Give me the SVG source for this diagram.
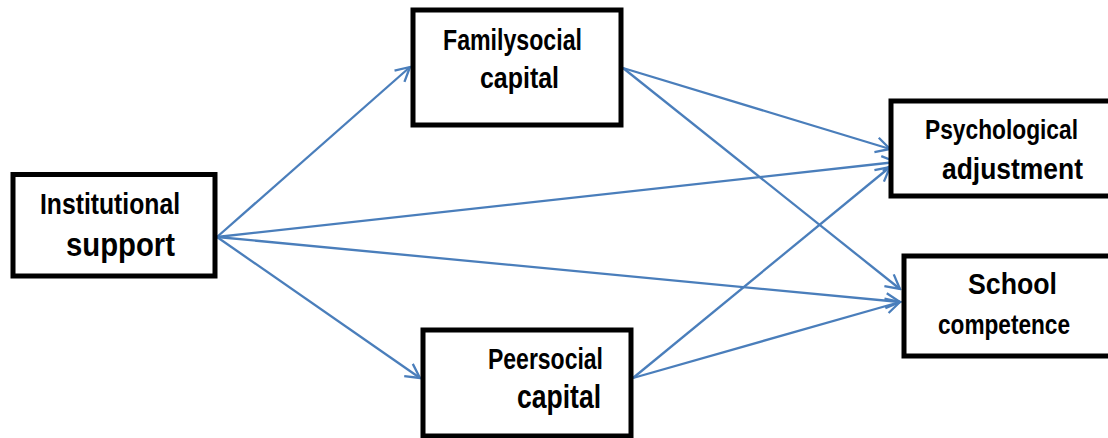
<svg xmlns="http://www.w3.org/2000/svg" width="1108" height="438" viewBox="0 0 1108 438">
  <style>
    .box { fill: #ffffff; stroke: #000000; stroke-width: 5; }
    .lbl { font-family: "Liberation Sans", Arial, sans-serif; font-weight: bold; fill: #000000; }
    .edge { stroke: #4a7ebb; stroke-width: 2.3; fill: none; marker-end: url(#arr); }
  </style>
  <defs>
    <marker id="arr" viewBox="0 0 18 18" refX="16" refY="9" markerWidth="18" markerHeight="18" markerUnits="userSpaceOnUse" orient="auto">
      <path d="M2,1.5 L16,9 L2,16.5" fill="none" stroke="#4a7ebb" stroke-width="2.3" stroke-linejoin="miter"/>
    </marker>
  </defs>
  <rect width="1108" height="438" fill="#ffffff"/>
  <g id="connectors">
    <line class="edge" x1="217" y1="237" x2="410" y2="67"/>
    <line class="edge" x1="217" y1="237" x2="896" y2="162"/>
    <line class="edge" x1="217" y1="237" x2="900" y2="302"/>
    <line class="edge" x1="217" y1="237" x2="420" y2="378"/>
    <line class="edge" x1="623" y1="68" x2="890" y2="149"/>
    <line class="edge" x1="623" y1="68" x2="900" y2="289"/>
    <line class="edge" x1="633" y1="378" x2="890" y2="167"/>
    <line class="edge" x1="633" y1="378" x2="900" y2="302"/>
  </g>
  <g id="institutional-support">
    <rect class="box" x="13" y="174.5" width="202" height="101.5"/>
    <text class="lbl" x="40" y="214" font-size="30" textLength="140" lengthAdjust="spacingAndGlyphs">Institutional</text>
    <text class="lbl" x="66" y="256" font-size="34" textLength="109" lengthAdjust="spacingAndGlyphs">support</text>
  </g>
  <g id="family-social-capital">
    <rect class="box" x="413" y="10" width="208" height="115"/>
    <text class="lbl" x="443" y="50" font-size="29" textLength="139" lengthAdjust="spacingAndGlyphs">Familysocial</text>
    <text class="lbl" x="480" y="88" font-size="29" textLength="79" lengthAdjust="spacingAndGlyphs">capital</text>
  </g>
  <g id="peer-social-capital">
    <rect class="box" x="423" y="330" width="208" height="106"/>
    <text class="lbl" x="488" y="369" font-size="29" textLength="115" lengthAdjust="spacingAndGlyphs">Peersocial</text>
    <text class="lbl" x="517" y="408" font-size="33" textLength="84" lengthAdjust="spacingAndGlyphs">capital</text>
  </g>
  <g id="psychological-adjustment">
    <rect class="box" x="891" y="101" width="225" height="95"/>
    <text class="lbl" x="925" y="139" font-size="28" textLength="153" lengthAdjust="spacingAndGlyphs">Psychological</text>
    <text class="lbl" x="942" y="179" font-size="30" textLength="141" lengthAdjust="spacingAndGlyphs">adjustment</text>
  </g>
  <g id="school-competence">
    <rect class="box" x="904" y="256" width="212" height="100"/>
    <text class="lbl" x="968" y="294" font-size="30" textLength="89" lengthAdjust="spacingAndGlyphs">School</text>
    <text class="lbl" x="938" y="334" font-size="27" textLength="132" lengthAdjust="spacingAndGlyphs">competence</text>
  </g>
</svg>
